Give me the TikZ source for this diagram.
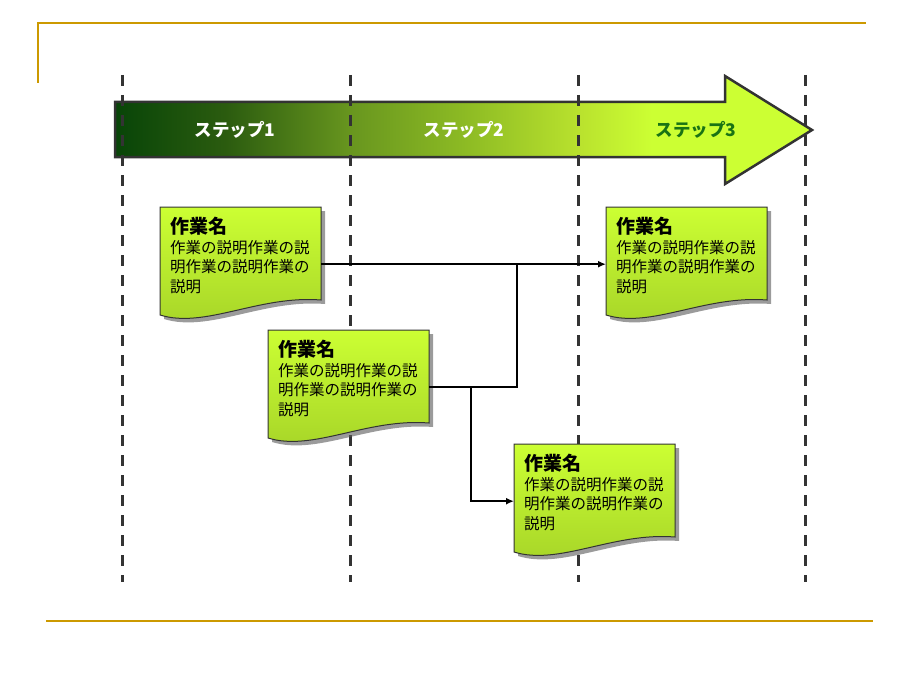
\documentclass[tikz,border=0pt]{standalone}
\usepackage{fontspec}
\setmainfont{Noto Sans CJK JP}
\usetikzlibrary{arrows.meta}
\definecolor{gold}{RGB}{204,153,0}
\definecolor{lime}{RGB}{204,255,51}
\definecolor{limedark}{RGB}{166,212,40}
\definecolor{stepgreen}{RGB}{25,115,20}
\pgfdeclarehorizontalshading{stepshade}{100bp}{rgb(0bp)=(0.03,0.27,0.03); rgb(25bp)=(0.03,0.27,0.03); rgb(33bp)=(0.17,0.36,0.06); rgb(42bp)=(0.41,0.59,0.12); rgb(50bp)=(0.55,0.73,0.14); rgb(58.5bp)=(0.73,0.89,0.18); rgb(63.5bp)=(0.8,1,0.2); rgb(100bp)=(0.8,1,0.2)}
\tikzset{docbox/.style={anchor=north west,inner sep=10pt,align=left,font=\fontsize{15.5}{19.5}\selectfont},
	 steplabel/.style={font=\fontsize{17.5}{20}\selectfont\bfseries,text=white},
	 lane/.style={line width=3pt,black!80,dash pattern=on 11pt off 9pt},
	 link/.style={line width=1.6pt},
	 flow/.style={link,-{Latex[length=8pt,width=7pt]}},
	 frame/.style={gold,line width=2pt}
	 }
\newcommand{\workdoc}[3]{%
	\begin{scope}[shift={(#2,#3)}]
		\fill[black!65,opacity=.6] (4,4) -- (165,4) -- (165,97) .. controls (103,92) and (49,126) .. (4,112) -- cycle;
		\shade[top color=lime,bottom color=limedark,draw=black!80,line width=1pt] (0,0) -- (161,0) -- (161,93) .. controls (99,88) and (45,122) .. (0,108) -- cycle;
		\node[docbox] (#1) at (0,0) {\parbox[t][88pt][t]{141pt}{{\fontsize{19}{22}\selectfont\bfseries 作業名}\\作業の説明作業の説\\明作業の説明作業の\\説明}};
	\end{scope}}

\begin{document}
\begin{tikzpicture}[x=1pt,y=-1pt] % steps with work documents
	\useasboundingbox (0,0) rectangle (920,690);
	\draw[frame] (38,83) -- (38,23) -- (866,23);
	\draw[frame] (46,621) -- (873,621);
	\shade[shading=stepshade,draw=black!80,line width=2.5pt] (115,102) -- (725,102) -- (725,76) -- (812,130) -- (725,184) -- (725,157) -- (115,157) -- cycle;
	\foreach \x in {122,350,578,805}
		\draw[lane] (\x,75) -- (\x,582);
	\node[steplabel] (s1) at (235,130) {ステップ1};
	\node[steplabel] (s2) at (464,130) {ステップ2};
	\node[steplabel,text=stepgreen] (s3) at (696,130) {ステップ3};
	\workdoc{d1}{160}{207}
	\workdoc{d2}{268}{330}
	\workdoc{d3}{606}{207}
	\workdoc{d4}{514}{444}
	\coordinate (merge) at (517,264);
	\coordinate (split) at (471,387);
	\draw[flow] ([yshift=-3pt]d1.east) -- ([yshift=-3pt]d3.west);
	\draw[link] ([yshift=-3pt]d2.east) -| (merge);
	\draw[flow] (split) |- ([yshift=-3pt]d4.west);
\end{tikzpicture}
\end{document}
